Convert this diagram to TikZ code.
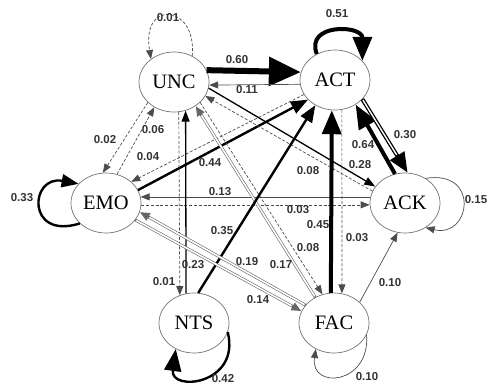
\documentclass[tikz,border=0pt]{standalone}
\usepackage{fontspec}
\setmainfont{Liberation Serif}
\setsansfont{Liberation Sans}
\usetikzlibrary{shapes.geometric, arrows.meta}
\tikzstyle{state}=[ellipse, draw=black!55, line width=0.7pt, fill=white, minimum width=70pt, minimum height=60pt, inner sep=0pt, font=\fontsize{20.5}{24}\selectfont]
\tikzstyle{prob}=[font=\sffamily\bfseries\fontsize{11.5}{13}\selectfont, text=black!80, inner sep=0pt]
\tikzstyle{heaviest}=[line width=6pt, -{Triangle[length=32pt, width=28pt]}]
\tikzstyle{heavy}=[line width=4pt, -{Triangle[length=24pt, width=19pt]}]
\tikzstyle{heavytwin}=[line width=4pt, -{Triangle[length=20pt, width=16pt]},
    postaction={draw=white, line width=1.4pt, -, shorten <=1pt, shorten >=21pt}]
\tikzstyle{strong}=[line width=2.4pt, -{Triangle[length=17pt, width=13pt]}]
\tikzstyle{medium}=[line width=1.3pt, -{Triangle[length=11pt, width=8pt]}]
\tikzstyle{weak}=[line width=0.7pt, black!70, -{Triangle[length=9pt, width=7pt]}]
\tikzstyle{faint}=[weak, dash pattern=on 3pt off 1.8pt]
\tikzstyle{twin}=[line width=2.8pt, black!60, -{Triangle[length=10pt, width=8pt]},
    postaction={draw=white, line width=1.6pt, -, shorten <=1pt, shorten >=11pt}]

\begin{document}
\begin{tikzpicture}[x=1pt, y=-1pt]
\useasboundingbox (0,0) rectangle (492,386);
% States
    \node[state] (UNC) at (174,82) {UNC};
    \node[state] (ACT) at (335,80) {ACT};
    \node[state] (EMO) at (106,203) {EMO};
    \node[state] (ACK) at (405,203) {ACK};
    \node[state] (NTS) at (194,323) {NTS};
    \node[state] (FAC) at (334,323) {FAC};
% Self transitions
    \draw[faint] (UNC.55) .. controls +(5,-52) and +(-10,-60) .. (UNC.135);
    \draw[heavy] (ACT.125) .. controls +(-12,-31) and +(0,-36) .. (ACT.35);
    \draw[strong] (EMO.218) .. controls +(-54,17) and +(-49,-9) .. (EMO.145);
    \draw[weak] (ACK.50) .. controls +(55,-9) and +(45,11) .. (ACK.310);
    \draw[strong, -{Triangle[length=22pt, width=17pt]}] (NTS.345) .. controls +(13,53) and +(-6,43) .. (NTS.235);
    \draw[weak] (FAC.340) .. controls +(4,50) and +(-6,41) .. (FAC.235);
% Transitions between states
    \draw[heaviest] (UNC.20) -- (ACT.167);
    \draw[weak] (ACT.187) -- (UNC.355);
    \draw[faint] (UNC.218) -- (EMO.96);
    \draw[faint] (EMO.69) -- (UNC.232);
    \draw[faint] (ACT.205) -- (EMO.40);
    \draw[strong] (EMO.22) -- (ACT.216);
    \draw[weak] (ACK.170) -- (EMO.10);
    \draw[faint] (EMO.357) -- (ACK.183);
    \draw[heavy] (ACK.109) -- (ACT.310);
    \draw[heavytwin] (ACT.325) -- (ACK.85);
    \draw[medium] (UNC.350) -- (ACK.151);
    \draw[faint] (ACK.160) -- (UNC.336);
    \draw[faint] (UNC.322) -- (FAC.112);
    \draw[twin] (FAC.126) -- (UNC.312);
    \draw[medium] (NTS.105) -- (UNC.292);
    \draw[faint] (UNC.279) -- (NTS.117);
    \draw[strong] (NTS.82) -- (ACT.232);
    \draw[heavy] (FAC.96) -- (ACT.264);
    \draw[faint] (ACT.283) -- (FAC.75);
    \draw[twin] (FAC.148) -- (EMO.345);
    \draw[twin] (EMO.330) -- (FAC.160);
    \draw[weak] (FAC.39) -- (ACK.256);
% Probabilities
    \foreach \x/\y/\p [count=\i] in {168/18/0.01, 337/14/0.51, 237/60/0.60, 247/90/0.11,
        105/140/0.02, 153/130/0.06, 148/157/0.04, 210/163/0.44, 22/198/0.33,
        220/192/0.13, 298/210/0.03, 363/145/0.64, 405/135/0.30, 360/165/0.28,
        308/171/0.08, 476/200/0.15, 222/231/0.35, 318/225/0.45, 357/238/0.03,
        193/265/0.23, 164/282/0.01, 247/262/0.19, 281/265/0.17, 308/248/0.08,
        258/300/0.14, 390/283/0.10, 367/377/0.10, 223/379/0.42}
        \node[prob] (p\i) at (\x,\y) {\p};
\end{tikzpicture}
\end{document}
